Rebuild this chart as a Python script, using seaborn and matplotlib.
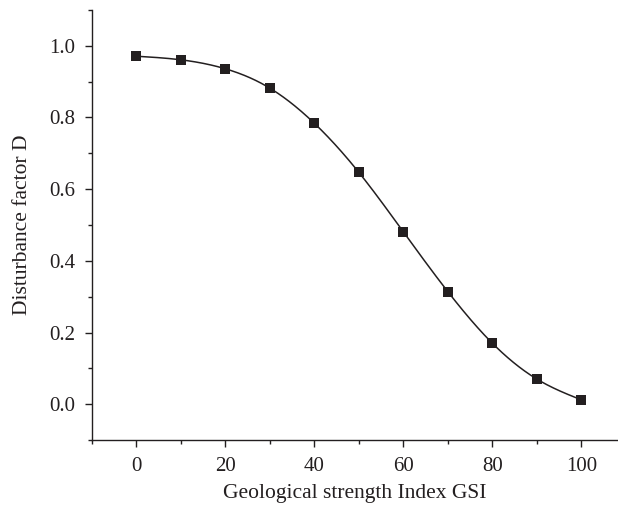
import numpy as np
import pandas as pd
import matplotlib
matplotlib.use("Agg")
import matplotlib.pyplot as plt
import seaborn as sns
from matplotlib.ticker import MultipleLocator, FormatStrFormatter

# data
gsi = [0, 10, 20, 30, 40, 50, 60, 70, 80, 90, 100]
disturbance = [0.971, 0.961, 0.936, 0.882, 0.784, 0.647, 0.481, 0.314, 0.170, 0.070, 0.012]

df = pd.DataFrame({"GSI": gsi, "D": disturbance})


def natural_spline(x, y, n=400):
    # plain natural cubic spline through the points, for the smooth connecting line
    x = np.asarray(x, float)
    y = np.asarray(y, float)
    h = np.diff(x)
    m = len(x)
    A = np.zeros((m, m))
    b = np.zeros(m)
    A[0, 0] = A[-1, -1] = 1
    for i in range(1, m - 1):
        A[i, i - 1] = h[i - 1]
        A[i, i] = 2 * (h[i - 1] + h[i])
        A[i, i + 1] = h[i]
        b[i] = 6 * ((y[i + 1] - y[i]) / h[i] - (y[i] - y[i - 1]) / h[i - 1])
    M = np.linalg.solve(A, b)
    xs = np.linspace(x[0], x[-1], n)
    k = np.clip(np.searchsorted(x, xs) - 1, 0, m - 2)
    t0 = x[k + 1] - xs
    t1 = xs - x[k]
    hk = h[k]
    ys = (M[k] * t0 ** 3 + M[k + 1] * t1 ** 3) / (6 * hk) \
        + (y[k] / hk - M[k] * hk / 6) * t0 + (y[k + 1] / hk - M[k + 1] * hk / 6) * t1
    return xs, ys


sns.set_style("ticks")
plt.rcParams["font.family"] = ["Liberation Serif", "DejaVu Serif"]
ink = "#231f20"

fig = plt.figure(figsize=(6.18, 5.12), dpi=100)
ax = fig.add_axes([0.1484, 0.1406, 0.85, 0.8399])

xs, ys = natural_spline(df["GSI"], df["D"])
sns.lineplot(x=xs, y=ys, color=ink, lw=1.1, ax=ax)
sns.scatterplot(data=df, x="GSI", y="D", marker="s", s=60, color=ink,
                edgecolor=ink, linewidth=0, zorder=3, ax=ax)

ax.set_xlim(-10, 108)
ax.set_ylim(-0.1, 1.1)
ax.set_xticks(range(0, 101, 20))
ax.set_yticks(np.round(np.arange(0, 1.01, 0.2), 1))
ax.xaxis.set_minor_locator(MultipleLocator(10))
ax.yaxis.set_minor_locator(MultipleLocator(0.1))
ax.yaxis.set_major_formatter(FormatStrFormatter("%.1f"))

for s in ["top", "right"]:
    ax.spines[s].set_visible(False)
for s in ["left", "bottom"]:
    ax.spines[s].set_linewidth(1.0)
    ax.spines[s].set_color(ink)

ax.tick_params(which="major", length=5, width=1.0, color=ink, labelsize=15,
               labelcolor=ink, pad=7)
ax.tick_params(which="minor", length=3, width=1.0, color=ink)

ax.set_xlabel("Geological strength Index GSI", fontsize=15.5, color=ink, labelpad=6)
ax.set_ylabel("Disturbance factor D", fontsize=15.5, color=ink, labelpad=12)

fig.savefig("out.png", dpi=100)
